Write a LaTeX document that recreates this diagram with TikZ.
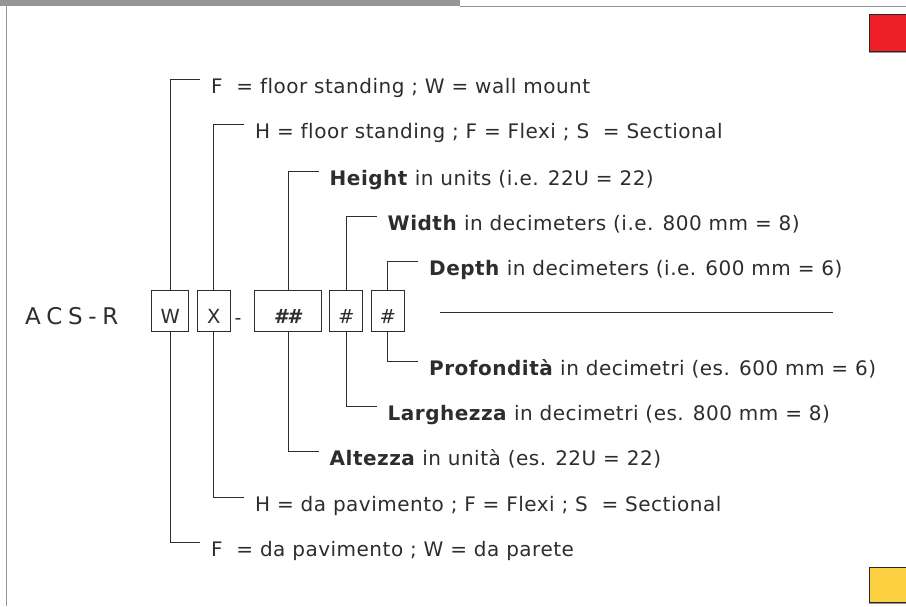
\documentclass[tikz,border=0pt]{standalone}
\usepackage{fontspec}
\setmainfont{DejaVu Sans}[Ligatures=CommonOff]
\usepackage{xcolor}
\usepackage{tikz}
\usetikzlibrary{positioning}
\definecolor{inkgray}{RGB}{45,45,45}
\definecolor{framegray}{RGB}{150,150,152}
\definecolor{tabred}{RGB}{238,31,38}
\definecolor{tabyellow}{RGB}{253,208,66}

\tikzset{
  codebox/.style={draw=inkgray, line width=0.8pt, inner sep=0pt,
    text height=33pt, text depth=8pt, minimum width=33pt,
    font=\fontsize{19.5}{19.5}\selectfont, text=inkgray},
  lbl/.style={anchor=north west, inner sep=0pt, text height=14.6pt,
    text depth=4pt, font=\fontsize{20}{22}\selectfont\addfontfeature{LetterSpace=2.5},
    text=inkgray},
  bracket/.style={draw=inkgray, line width=0.8pt},
  tab/.style={draw=black!85, line width=0.8pt}
}

\begin{document}
\begin{tikzpicture}[x=1pt, y=-1pt]
\useasboundingbox (0,0) rectangle (906,606);

% ---------------- page frame and tabs ----------------
\fill[framegray] (0,0) rectangle (460,6);
\draw[framegray, line width=0.8pt] (460,6) -- (906,6);
\draw[framegray, line width=1pt] (6.5,6) -- (6.5,606);
\filldraw[tab, fill=tabred] (869,14) rectangle (908,51);
\draw[framegray, line width=1pt] (869,52) -- (906,52);
\filldraw[tab, fill=tabyellow] (869,567) rectangle (908,602);
\draw[framegray, line width=1pt] (869,603) -- (906,603);

% ---------------- code ----------------
\node[anchor=base west, inner sep=0pt, text=inkgray,
      font=\fontsize{23}{23}\selectfont\addfontfeature{LetterSpace=25}]
      (acs) at (25,324) {ACS-R};
\node[codebox, minimum width=37pt] (bw) at (170.3,311.2) {W};
\node[codebox] (bx) at (213.8,311.2) {X};
\node[anchor=base, inner sep=0pt, text=inkgray,
      font=\fontsize{19}{19}\selectfont] (dash) at (238,324) {-};
\node[codebox, minimum width=67pt] (bh) at (288.3,311.2) {\textbf{\textit{\#\#}}};
\node[codebox] (bwd) at (346.2,311.2) {\textit{\#}};
\node[codebox] (bd) at (387.8,311.2) {\textit{\#}};
\draw[inkgray, line width=0.8pt] (440,312) -- (833,312);

% ---------------- English labels (above) ----------------
\node[lbl] (tw) at (211,79) {F \ = floor standing ; W = wall mount};
\node[lbl] (tx) at (255,124) {H = floor standing ; F = Flexi ; S \ = Sectional};
\node[lbl] (th) at (329.5,171) {\textbf{Height} in units (i.e. 22U = 22)};
\node[lbl] (twd) at (387.5,216) {\textbf{Width} in decimeters (i.e. 800 mm = 8)};
\node[lbl] (td) at (429,261) {\textbf{Depth} in decimeters (i.e. 600 mm = 6)};

% ---------------- Italian labels (below) ----------------
\node[lbl] (pd) at (429,361) {\textbf{Profondità} in decimetri (es. 600 mm = 6)};
\node[lbl] (pwd) at (387.5,406) {\textbf{Larghezza} in decimetri (es. 800 mm = 8)};
\node[lbl] (ph) at (329.5,451) {\textbf{Altezza} in unità (es. 22U = 22)};
\node[lbl] (px) at (255,497) {H = da pavimento ; F = Flexi ; S \ = Sectional};
\node[lbl] (pw) at (211,542) {F \ = da pavimento ; W = da parete};

% ---------------- brackets ----------------
\draw[bracket] (bw.north) |- ([xshift=-11pt]tw.north west);
\draw[bracket] (bx.north) |- ([xshift=-11pt]tx.north west);
\draw[bracket] (bh.north) |- ([xshift=-11pt]th.north west);
\draw[bracket] (bwd.north) |- ([xshift=-11pt]twd.north west);
\draw[bracket] (bd.north) |- ([xshift=-11pt]td.north west);

\draw[bracket] (bd.south) |- ([xshift=-11pt]pd.north west);
\draw[bracket] (bwd.south) |- ([xshift=-11pt]pwd.north west);
\draw[bracket] (bh.south) |- ([xshift=-11pt]ph.north west);
\draw[bracket] (bx.south) |- ([xshift=-11pt]px.north west);
\draw[bracket] (bw.south) |- ([xshift=-11pt]pw.north west);

\end{tikzpicture}
\end{document}
